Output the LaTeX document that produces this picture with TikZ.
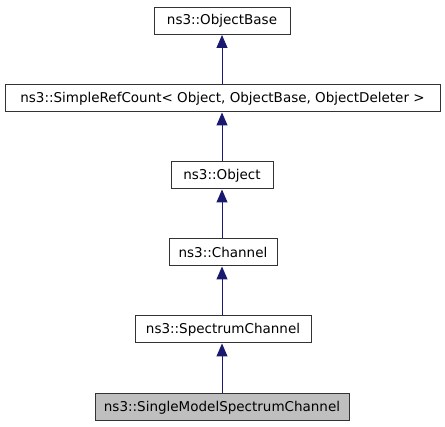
\documentclass[tikz,border=0pt]{standalone}
\usepackage{fontspec}
\setmainfont{DejaVu Sans}
\usetikzlibrary{arrows.meta}
\definecolor{edgeblue}{HTML}{191970}
\definecolor{boxgray}{HTML}{BFBFBF}
\begin{document}
\begin{tikzpicture}[x=1pt,y=-1pt,
  cls/.style={draw=black!80,line width=1pt,fill=white,minimum height=27pt,inner sep=0pt,font=\fontsize{13.5}{16}\selectfont},
  inh/.style={draw=edgeblue,line width=1pt,-{Triangle[length=13pt,width=11pt]}}]
\useasboundingbox (0,0) rectangle (445,427);
\node[cls,minimum width=136pt] (ob) at (222,21) {ns3::ObjectBase};
\node[cls,minimum width=435pt] (src) at (222.5,98.5) {ns3::SimpleRefCount< Object, ObjectBase, ObjectDeleter >};
\node[cls,minimum width=102pt] (obj) at (222,175.5) {ns3::Object};
\node[cls,minimum width=108pt] (ch) at (223,252.5) {ns3::Channel};
\node[cls,minimum width=176pt] (sc) at (223,329.5) {ns3::SpectrumChannel};
\node[cls,minimum width=254pt,fill=boxgray] (smsc) at (222,407.5) {ns3::SingleModelSpectrumChannel};
\draw[inh] (src.north -| ob.south) -- (ob.south);
\draw[inh] (obj.north) -- (obj.north |- src.south);
\draw[inh] (ch.north -| obj.south) -- (obj.south);
\draw[inh] (sc.north -| obj.south) -- (ch.south -| obj.south);
\draw[inh] (smsc.north) -- (smsc.north |- sc.south);
\end{tikzpicture}
\end{document}
